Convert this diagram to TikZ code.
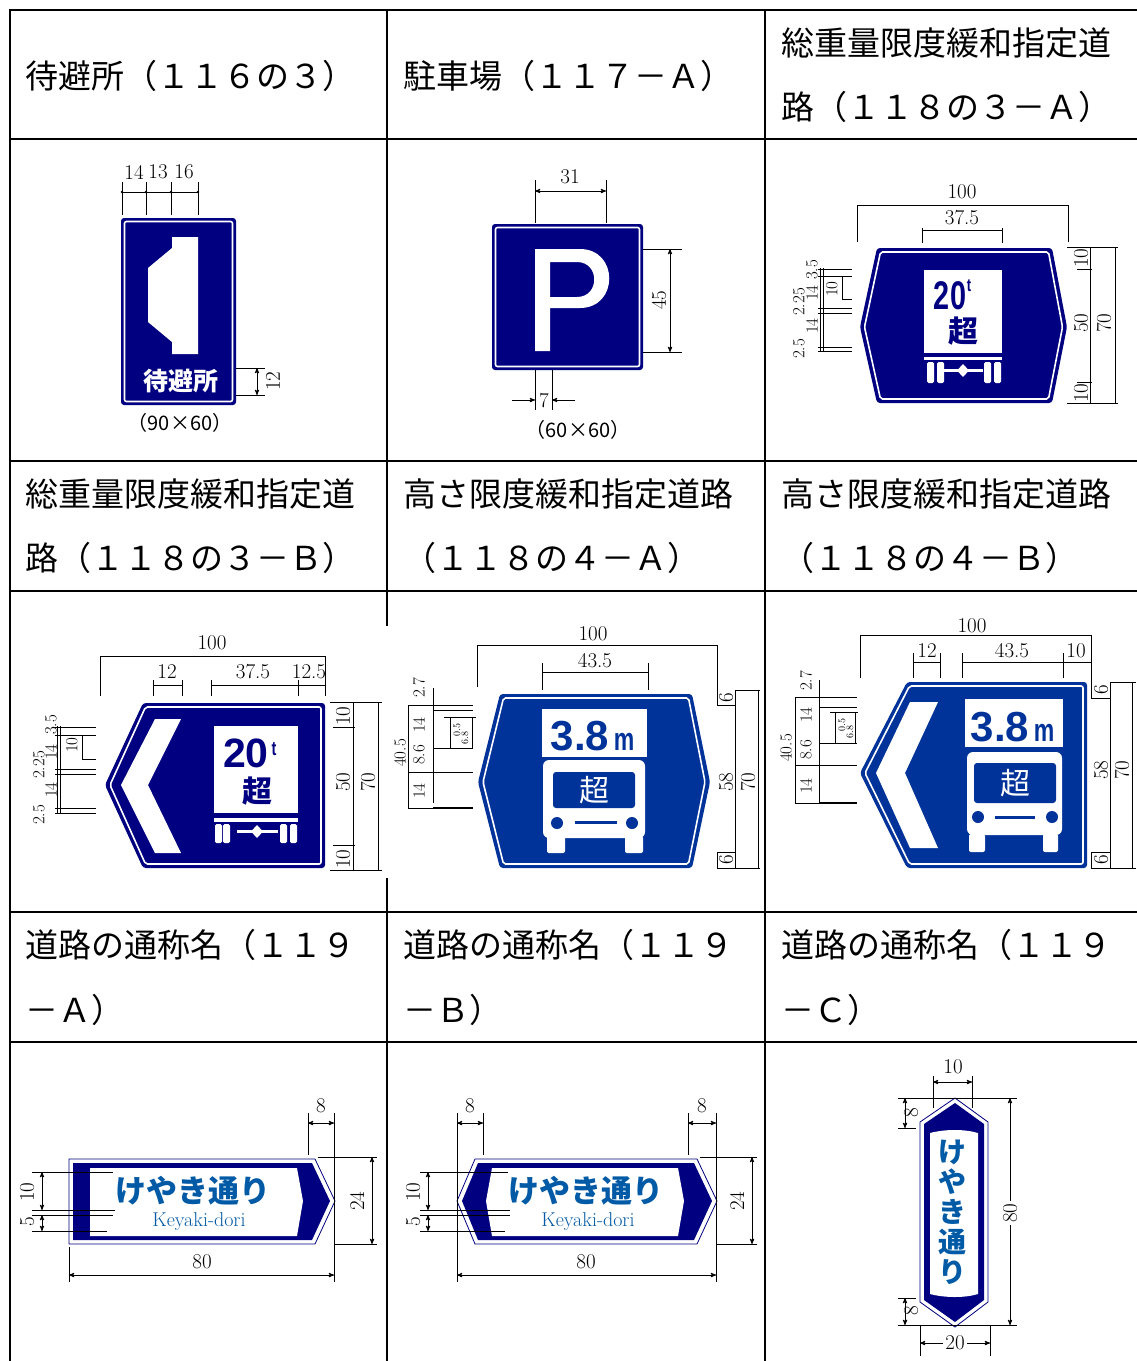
\documentclass[tikz,border=0pt]{standalone}
\usepackage{fontspec}
\newfontfamily\jpfont{Noto Sans CJK JP}
\newfontfamily\signsans{Liberation Sans}
\newfontfamily\condfont[FakeStretch=0.72]{Liberation Sans}
\usetikzlibrary{arrows,positioning}
\definecolor{navy}{RGB}{0,0,128}
\definecolor{hblue}{RGB}{0,51,153}
\definecolor{kblue}{RGB}{0,90,165}

\begin{document}
\begin{tikzpicture}[x=1pt,y=-1pt,>=stealth',
  rule/.style={line width=1.5pt},
  head/.style={anchor=west,inner sep=0pt,font=\jpfont\fontsize{33}{33}\selectfont},
  plate/.style={fill=#1,rounded corners=3pt},
  rim/.style={draw=white,line width=1.6pt,rounded corners=2pt},
  dimln/.style={line width=0.9pt},
  dimtx/.style={inner sep=0pt,font=\fontsize{21}{21}\selectfont},
  dimrot/.style={dimtx,rotate=90},
  dimsm/.style={inner sep=0pt,rotate=90,font=\fontsize{17}{17}\selectfont},
  dimtiny/.style={inner sep=0pt,rotate=90,font=\fontsize{10}{10}\selectfont},
  sizecap/.style={inner sep=0pt,font=\jpfont\fontsize{20}{20}\selectfont},
  bigdig/.style={inner sep=0pt,anchor=base,font=\condfont\bfseries\fontsize{#1}{#1}\selectfont},
  widedig/.style={inner sep=0pt,anchor=base,font=\signsans\bfseries\fontsize{#1}{#1}\selectfont},
  kanji/.style={inner sep=0pt,font=\jpfont\bfseries\fontsize{#1}{#1}\selectfont},
  jptx/.style={inner sep=0pt,font=\jpfont\fontsize{#1}{#1}\selectfont},
  kana/.style={inner sep=0pt,text=kblue,font=\jpfont\bfseries\fontsize{#1}{#1}\selectfont},
  roman/.style={inner sep=0pt,text=kblue,font=\fontsize{20}{20}\selectfont}]

\fill[white] (0,0) rectangle (1137,1361);
\useasboundingbox (0,0) rectangle (1137,1361);

\foreach \y in {10,139,461,591,912,1042}
  \draw[rule] (9,\y) -- (1137,\y);
\draw[rule] (10,9) -- (10,1361) (765,9) -- (765,1361);
\draw[rule] (387,9) -- (387,626) (387,878) -- (387,1361);

\node[head] (hA) at (25,76) {待避所（１１６の３）};
\node[head] (hB) at (403,76) {駐車場（１１７－Ａ）};
\node[head] (hC1) at (781,43) {総重量限度緩和指定道};
\node[head] (hC2) [below=64pt of hC1.west,anchor=west] {路（１１８の３－Ａ）};
\node[head] (hD1) at (25,494) {総重量限度緩和指定道};
\node[head] (hD2) [below=64pt of hD1.west,anchor=west] {路（１１８の３－Ｂ）};
\node[head] (hE1) at (403,494) {高さ限度緩和指定道路};
\node[head] (hE2) [below=64pt of hE1.west,anchor=west] {（１１８の４－Ａ）};
\node[head] (hF1) at (781,494) {高さ限度緩和指定道路};
\node[head] (hF2) [below=64pt of hF1.west,anchor=west] {（１１８の４－Ｂ）};
\node[head] (hG1) at (25,945) {道路の通称名（１１９};
\node[head] (hG2) [below=65pt of hG1.west,anchor=west] {－Ａ）};
\node[head] (hH1) at (403,945) {道路の通称名（１１９};
\node[head] (hH2) [below=65pt of hH1.west,anchor=west] {－Ｂ）};
\node[head] (hI1) at (781,945) {道路の通称名（１１９};
\node[head] (hI2) [below=65pt of hI1.west,anchor=west] {－Ｃ）};

% 待避所
\fill[plate=navy] (121,218) rectangle (236,405);
\draw[rim] (124.5,221.5) rectangle (232.5,401.5);
\fill[white] (172,237) -- (198,237) -- (198,354) -- (172,354) -- (172,342) -- (148,322) -- (148,268) -- (172,248) -- cycle;
\node[kanji=25,text=white] (s1) at (181,381) {待避所};
\draw[dimln] (122,182) -- (122,215) (146,182) -- (146,215) (171,182) -- (171,215) (198,182) -- (198,215);
\draw[dimln] (122,192) -- (198,192);
\foreach \x in {122,146,171,198} \fill (\x,192) circle (1.4pt);
\foreach \x/\t [count=\i] in {134/14,158/13,184/16} \node[dimtx] (a\i) at (\x,172) {\t};
\draw[dimln] (236,368) -- (265,368) (236,395) -- (265,395);
\draw[dimln,<->] (257,368) -- (257,395);
\node[dimrot] (a4) at (273,381) {12};
\node[sizecap] (c1) at (180,423) {（90×60）};

% 駐車場
\fill[plate=navy] (492,224) rectangle (643,370);
\draw[rim] (495.5,227.5) rectangle (639.5,366.5);
\fill[white,even odd rule] (535,351) -- (535,249) -- (580,249) .. controls (619,249) and (619,308) .. (580,308) -- (550,308) -- (550,351) -- cycle
  (550,262) -- (577,262) .. controls (600,262) and (600,297) .. (577,297) -- (550,297) -- cycle;
\draw[dimln] (535,180) -- (535,223) (606,180) -- (606,223);
\draw[dimln,<->] (535,191) -- (606,191);
\node[dimtx] (b1) at (570,177) {31};
\draw[dimln] (643,249) -- (682,249) (643,352) -- (682,352);
\draw[dimln,<->] (670,249) -- (670,352);
\node[dimrot] (b2) at (659,300) {45};
\draw[dimln] (535,370) -- (535,410) (552,370) -- (552,410);
\draw[dimln,->] (512,400) -- (535,400);
\draw[dimln,->] (575,400) -- (552,400);
\node[dimtx] (b3) at (544,401) {7};
\node[sizecap] (c2) at (578,430) {（60×60）};

% 118の3-A
\fill[plate=navy] (860,327) -- (877,248) -- (1052,248) -- (1067,327) -- (1052,403) -- (877,403) -- cycle;
\draw[rim] (864.5,327) -- (880.5,252) -- (1048.5,252) -- (1062.5,327) -- (1048.5,399) -- (880.5,399) -- cycle;
\fill[white] (924,270) rectangle (1002,353);
\node[bigdig=40,text=navy] (s3a) at (950,309) {20};
\node[bigdig=18,text=navy] (s3b) at (969,291) {t};
\node[kanji=30,text=navy] (s3c) at (963,331) {超};
\fill[white] (924,357) rectangle (1002,360);
\foreach \x in {927,937,984,994} \fill[white,rounded corners=1.5pt] (\x,362) rectangle ++(7,21);
\fill[white] (944,369) rectangle (983,372);
\fill[white] (963,364) -- (969,370.5) -- (963,377) -- (957,370.5) -- cycle;
\draw[dimln] (857,242) -- (857,205) -- (1068,205) -- (1068,242);
\node[dimtx] (e1) at (962,192) {100};
\draw[dimln] (922,243) -- (922,228) (1002,243) -- (1002,228) (922,230) -- (1002,230);
\node[dimtx] (e2) at (962,218) {37.5};
\draw[dimln] (1067,247) -- (1118,247) (1067,403) -- (1118,403) (1090,247) -- (1090,403) (1115,247) -- (1115,403)
  (1077,269) -- (1092,269) (1077,382) -- (1092,382);
\foreach \y/\t [count=\i] in {258/10,323/50,393/10} \node[dimrot] (e\i r) at (1081,\y) {\t};
\node[dimrot] (e4r) at (1104,323) {70};
\draw[dimln] (820,268) -- (820,352) (823,268) -- (823,352);
\foreach \y in {269,276,308,313,347,351} \draw[dimln] (818,\y) -- (852,\y);
\draw[dimln] (842,277) -- (842,299) -- (852,299);
\foreach \x/\y/\t [count=\i] in {812/270/3.5,812/293/14,799/302/2.25,812/326/14,799/349/2.5,832/289/10}
  \node[dimsm] (e\i l) at (\x,\y) {\t};

% 118の3-B
\fill[plate=navy] (105,785) -- (143,703) -- (325,703) -- (325,868) -- (143,868) -- cycle;
\draw[rim] (110,785) -- (145.5,707) -- (321,707) -- (321,864) -- (145.5,864) -- cycle;
\fill[white] (155,719) -- (181,719) -- (148,785) -- (181,853) -- (155,853) -- (121,785) -- cycle;
\fill[white] (214,726) rectangle (298,813);
\node[widedig=41,text=navy] (s4a) at (246,767) {20};
\node[bigdig=20,text=navy] (s4b) at (274,755) {t};
\node[kanji=30,text=navy] (s4c) at (257,791) {超};
\fill[white] (214,818) rectangle (298,822);
\foreach \x in {215,223,280,290} \fill[white,rounded corners=1.5pt] (\x,824) rectangle ++(7,19);
\fill[white] (237,830) rectangle (278,833);
\fill[white] (257,825) -- (263,831.5) -- (257,838) -- (251,831.5) -- cycle;
\draw[dimln] (100,696) -- (100,656) -- (325,656) -- (325,696);
\node[dimtx] (h1) at (212,643) {100};
\draw[dimln] (153,685) -- (182,685) (153,680) -- (153,696) (182,680) -- (182,696);
\node[dimtx] (h2) at (167,672) {12};
\draw[dimln] (211,685) -- (325,685) (211,680) -- (211,696) (298,680) -- (298,696);
\node[dimtx] (h3) at (253,672) {37.5};
\node[dimtx] (h4) at (309,672) {12.5};
\draw[dimln] (330,702) -- (382,702) (330,870) -- (382,870) (353,702) -- (353,870) (378,702) -- (378,870)
  (333,727) -- (355,727) (333,845) -- (355,845);
\foreach \y/\t [count=\i] in {716/10,782/50,859/10} \node[dimrot] (h\i r) at (343,\y) {\t};
\node[dimrot] (h4r) at (368,782) {70};
\draw[dimln] (57,726) -- (57,814) (60,726) -- (60,814);
\foreach \y in {727,735,769,774,808,813} \draw[dimln] (55,\y) -- (96,\y);
\draw[dimln] (82,735) -- (82,759) -- (96,759);
\foreach \x/\y/\t [count=\i] in {51/725/3.5,51/752/14,39/765/2.25,51/790/14,39/815/2.5,72/745/10}
  \node[dimsm] (h\i l) at (\x,\y) {\t};

% 118の4-A
\fill[plate=hblue] (478,782) -- (500,694) -- (692,694) -- (710,782) -- (692,868) -- (500,868) -- cycle;
\draw[rim] (483,782) -- (503.5,698) -- (688.5,698) -- (705,782) -- (688.5,864) -- (503.5,864) -- cycle;
\fill[white] (542,709) rectangle (647,757);
\node[widedig=42,text=hblue] (s5a) at (580,750) {3.8};
\node[bigdig=32,text=hblue] (s5b) at (624,750) {m};
\fill[white,rounded corners=6pt] (543,760) rectangle (645,838);
\fill[hblue,rounded corners=3pt] (553,772) rectangle (635,808);
\node[jptx=30,text=white] (s5c) at (594,790) {超};
\fill[hblue] (557,823) circle (6pt) (632,823) circle (6pt);
\fill[hblue] (575,821) rectangle (617,824);
\fill[white,rounded corners=2pt] (547,836) rectangle (565,853) (625,836) rectangle (643,853);
\draw[dimln] (477,687) -- (477,645) -- (717,645) -- (717,705) -- (735,705);
\node[dimtx] (g1) at (593,634) {100};
\draw[dimln] (542,672) -- (648,672) (542,663) -- (542,690) (648,663) -- (648,690);
\node[dimtx] (g2) at (595,661) {43.5};
\draw[dimln] (735,690) -- (760,690) (735,690) -- (735,868) (758,690) -- (758,868)
  (717,852) -- (735,852) (717,852) -- (717,868) (717,868) -- (760,868);
\foreach \y/\t [count=\i] in {698/6,782/58,860/6} \node[dimrot] (g\i r) at (726,\y) {\t};
\node[dimrot] (g4r) at (748,782) {70};
\draw[dimln] (408,705) -- (408,808) (433,688) -- (433,803);
\draw[dimln] (408,705) -- (473,705) (433,710) -- (473,710) (433,748) -- (473,748) (408,772) -- (473,772) (408,808) -- (473,808);
\draw[line width=2.5pt] (433,808) -- (473,808);
\draw[dimln] (444,717) -- (476,717) (450,717) -- (450,748) (472,717) -- (472,748);
\foreach \y/\t [count=\i] in {688/2.7,725/14,755/8.6,791/14} \node[dimsm] (g\i l) at (419,\y) {\t};
\node[dimsm] (g5l) at (400,753) {40.5};
\node[dimtiny] (g6l) at (457,730) {0.5};
\node[dimtiny] (g7l) at (465,738) {6.8};

% 118の4-B
\fill[plate=hblue] (860,773) -- (907,682) -- (1087,682) -- (1087,868) -- (907,868) -- cycle;
\draw[rim] (865,773) -- (909.5,686) -- (1083,686) -- (1083,864) -- (909.5,864) -- cycle;
\fill[white] (910,702) -- (938,702) -- (905,773) -- (938,848) -- (910,848) -- (876,773) -- cycle;
\fill[white] (965,699) rectangle (1063,747);
\node[widedig=42,text=hblue] (s6a) at (1000,741) {3.8};
\node[bigdig=32,text=hblue] (s6b) at (1044,741) {m};
\fill[white,rounded corners=6pt] (967,752) rectangle (1062,835);
\fill[hblue,rounded corners=3pt] (974,763) rectangle (1056,803);
\node[jptx=30,text=white] (s6c) at (1015,783) {超};
\fill[hblue] (978,817) circle (6pt) (1052,817) circle (6pt);
\fill[hblue] (995,815.5) rectangle (1035,818.5);
\fill[white,rounded corners=2pt] (969,834) rectangle (985,852) (1043,834) rectangle (1058,852);
\draw[dimln] (860,678) -- (860,635) -- (1091,635) -- (1091,698) -- (1110,698);
\node[dimtx] (f1) at (972,626) {100};
\draw[dimln] (913,662) -- (940,662) (913,653) -- (913,678) (940,653) -- (940,678);
\node[dimtx] (f2) at (927,651) {12};
\draw[dimln] (962,662) -- (1091,662) (962,653) -- (962,678) (1063,653) -- (1063,678);
\node[dimtx] (f3) at (1012,651) {43.5};
\node[dimtx] (f4) at (1076,651) {10};
\draw[dimln] (1110,682) -- (1136,682) (1110,682) -- (1110,868) (1132,682) -- (1132,868)
  (1091,852) -- (1110,852) (1091,852) -- (1091,868) (1091,868) -- (1136,868);
\foreach \y/\t [count=\i] in {690/6,770/58,860/6} \node[dimrot] (f\i r) at (1101,\y) {\t};
\node[dimrot] (f4r) at (1122,770) {70};
\draw[dimln] (795,697) -- (795,803) (819,680) -- (819,803);
\draw[dimln] (795,697) -- (857,697) (819,707) -- (857,707) (819,743) -- (857,743) (795,765) -- (857,765) (795,803) -- (857,803);
\draw[line width=2.5pt] (819,803) -- (857,803);
\draw[dimln] (830,712) -- (858,712) (835,712) -- (835,743) (855,712) -- (855,743);
\foreach \y/\t [count=\i] in {681/2.7,715/14,750/8.6,786/14} \node[dimsm] (f\i l) at (806,\y) {\t};
\node[dimsm] (f5l) at (786,748) {40.5};
\node[dimtiny] (f6l) at (842,725) {0.5};
\node[dimtiny] (f7l) at (850,732) {6.8};

% 119-A
\draw[navy,line width=0.8pt,fill=white] (69,1159) -- (315,1159) -- (335,1201) -- (315,1244) -- (69,1244) -- cycle;
\fill[navy] (73,1163) -- (312,1163) -- (330,1201) -- (312,1240) -- (73,1240) -- cycle;
\fill[white] (90,1168) -- (297,1168) -- (303,1201) -- (297,1236) -- (90,1236) -- cycle;
\node[kana=31] (k1) at (193,1191) {けやき通り};
\node[roman] (k2) at (199,1222) {Keyaki-dori};
\draw[dimln] (308,1113) -- (308,1155) (334,1113) -- (334,1282);
\draw[dimln,<->] (308,1123) -- (334,1123);
\node[dimtx] (m1) at (321,1106) {8};
\draw[dimln] (318,1157) -- (377,1157) (335,1244) -- (377,1244);
\draw[dimln,<->] (372,1157) -- (372,1244);
\node[dimrot] (m2) at (357,1201) {24};
\draw[dimln] (69,1247) -- (69,1282);
\draw[dimln,<->] (69,1275) -- (334,1275);
\node[dimtx] (m3) at (202,1262) {80};
\draw[dimln] (32,1172) -- (113,1172) (32,1210) -- (115,1210) (32,1215) -- (113,1215) (32,1231) -- (107,1231);
\draw[dimln,<->] (42,1172) -- (42,1210);
\draw[dimln,<->] (42,1215) -- (42,1231);
\node[dimrot] (m4) at (27,1192) {10};
\node[dimrot] (m5) at (27,1222) {5};

% 119-B
\draw[navy,line width=0.8pt,fill=white] (457,1201) -- (475,1159) -- (697,1159) -- (717,1201) -- (697,1244) -- (475,1244) -- cycle;
\fill[navy] (462,1201) -- (478,1163) -- (694,1163) -- (712,1201) -- (694,1240) -- (478,1240) -- cycle;
\fill[white] (492,1168) -- (678,1168) -- (684,1201) -- (678,1236) -- (492,1236) -- (486,1201) -- cycle;
\node[kana=31] (k3) at (586,1191) {けやき通り};
\node[roman] (k4) at (588,1222) {Keyaki-dori};
\draw[dimln] (457,1113) -- (457,1282) (483,1113) -- (483,1155);
\draw[dimln,<->] (457,1123) -- (483,1123);
\node[dimtx] (n1) at (470,1106) {8};
\draw[dimln] (688,1113) -- (688,1155) (716,1113) -- (716,1282);
\draw[dimln,<->] (688,1123) -- (716,1123);
\node[dimtx] (n2) at (702,1106) {8};
\draw[dimln] (700,1157) -- (757,1157) (717,1244) -- (757,1244);
\draw[dimln,<->] (752,1157) -- (752,1244);
\node[dimrot] (n3) at (737,1201) {24};
\draw[dimln,<->] (457,1275) -- (716,1275);
\node[dimtx] (n4) at (586,1262) {80};
\draw[dimln] (420,1172) -- (508,1172) (420,1210) -- (510,1210) (420,1215) -- (510,1215) (420,1231) -- (505,1231);
\draw[dimln,<->] (428,1172) -- (428,1210);
\draw[dimln,<->] (428,1215) -- (428,1231);
\node[dimrot] (n5) at (413,1192) {10};
\node[dimrot] (n6) at (413,1222) {5};

% 119-C
\draw[navy,line width=0.8pt,fill=white] (955,1098) -- (988,1122) -- (988,1302) -- (955,1327) -- (920,1302) -- (920,1122) -- cycle;
\fill[navy] (955,1103) -- (984,1124) -- (984,1300) -- (955,1322) -- (924,1300) -- (924,1124) -- cycle;
\fill[white] (930,1133) .. controls (945,1129) and (965,1129) .. (978,1133) -- (978,1294) .. controls (965,1298) and (945,1298) .. (930,1294) -- cycle;
\foreach \c [count=\i] in {け,や,き,通,り} \node[kana=28] (v\i) at (952,1122+30*\i) {\c};
\draw[dimln] (933,1076) -- (933,1108) (972,1076) -- (972,1108);
\draw[dimln,<->] (933,1082) -- (972,1082);
\node[dimtx] (p1) at (953,1067) {10};
\draw[dimln] (898,1098) -- (1017,1098) (898,1128) -- (916,1128) (898,1298) -- (916,1298) (898,1325) -- (1017,1325);
\draw[dimln,<->] (905,1098) -- (905,1128);
\draw[dimln,<->] (905,1298) -- (905,1325);
\node[dimrot] (p2) at (911,1113) {8};
\node[dimrot] (p3) at (911,1311) {8};
\draw[dimln,<->] (1010,1098) -- (1010,1325);
\node[dimrot,fill=white,inner sep=2pt] (p4) at (1010,1213) {80};
\draw[dimln] (920,1325) -- (920,1356) (990,1325) -- (990,1356);
\draw[dimln,<->] (920,1343) -- (990,1343);
\node[dimtx,fill=white,inner sep=2pt] (p5) at (955,1343) {20};
\end{tikzpicture}
\end{document}
